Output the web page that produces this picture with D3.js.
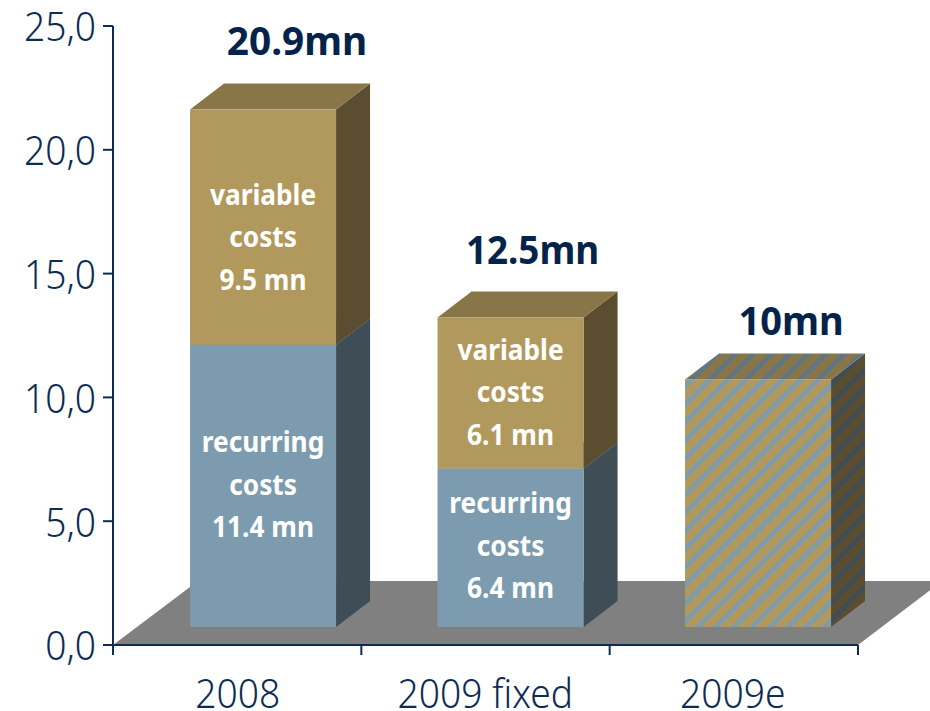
<!DOCTYPE html>
<html>
<head>
<meta charset="utf-8">
<script src="https://cdn.jsdelivr.net/npm/d3@7"></script>
<style>
  html, body { margin: 0; padding: 0; background: #fff; overflow: hidden; }
  text { font-family: "Noto Sans", sans-serif; }
</style>
</head>
<body>
<svg id="chart" width="930" height="711"></svg>
<script>
const categories = ['2008', '2009 fixed', '2009e'];
const recurring = [11.4, 6.4, 0];
const variable = [9.5, 6.1, 0];
const estimated = [0, 0, 10];
const totals = ['20.9mn', '12.5mn', '10mn'];
const recurringLabels = ['recurring|costs|11.4 mn', 'recurring|costs|6.4 mn', ''];
const variableLabels = ['variable|costs|9.5 mn', 'variable|costs|6.1 mn', ''];
const yTicks = [0, 5, 10, 15, 20, 25];

const navy = '#0c2c54';
const svg = d3.select('#chart');
const y = d3.scaleLinear().domain([0, 25]).range([645, 26]);
const x = d3.scaleBand().domain(categories).range([114, 856.5]);
const xEdges = d3.scaleLinear().domain([0, 3]).range([113, 858]);
const comma = d3.formatLocale({ decimal: ',', thousands: '.', grouping: [3], currency: ['', ''] }).format('.1f');

const barWidth = 146;
const lift = 18; // bars stand on the floor, above the axis line
const dx = 34;
const dy = 26;

const barLeft = (c) => x(c) + x.bandwidth() / 2 + 25.3 - barWidth / 2;

// the original face is narrower than Noto Sans, so squeeze to the measured width
function squeeze(selection, factor) {
  selection.each(function (d, i) {
    const w = this.getComputedTextLength();
    d3.select(this)
      .attr('textLength', w * (typeof factor === 'function' ? factor(d, i) : factor))
      .attr('lengthAdjust', 'spacingAndGlyphs');
  });
}

// stripe patterns for the estimated bar
const defs = svg.append('defs');
function stripes(id, a, b) {
  const p = defs.append('pattern')
    .attr('id', id)
    .attr('patternUnits', 'userSpaceOnUse')
    .attr('width', 12.8)
    .attr('height', 12.8)
    .attr('patternTransform', 'rotate(45)');
  p.append('rect').attr('width', 12.8).attr('height', 12.8).attr('fill', a);
  p.append('rect').attr('width', 4.6).attr('height', 12.8).attr('fill', b);
}
stripes('stripeFront', '#b1995d', '#7d9bae');
stripes('stripeTop', '#887548', '#5f7583');
stripes('stripeSide', '#5a4d30', '#3f4d57');

// floor
svg.append('polygon')
  .attr('points', [[113, 645], [198, 581], [942, 581], [858, 645]].join(' '))
  .attr('fill', '#808080');

// boxes are built from the stacked series
function box(g, c, from, to, fills) {
  const l = barLeft(c);
  const r = l + barWidth;
  const top = y(to) - lift;
  const bottom = y(from) - lift;
  g.append('polygon')
    .attr('points', [[r, bottom], [r + dx, bottom - dy], [r + dx, top - dy], [r, top]].join(' '))
    .attr('fill', fills.side);
  g.append('polygon')
    .attr('points', [[l, top], [l + dx, top - dy], [r + dx, top - dy], [r, top]].join(' '))
    .attr('fill', fills.top);
  g.append('rect')
    .attr('x', l)
    .attr('y', top)
    .attr('width', barWidth)
    .attr('height', bottom - top)
    .attr('fill', fills.front);
}

const blueFill = { front: '#7d9bae', top: '#5f7583', side: '#3f4d57' };
const goldFill = { front: '#b1995d', top: '#887548', side: '#5a4d30' };
const stripeFill = { front: 'url(#stripeFront)', top: 'url(#stripeTop)', side: 'url(#stripeSide)' };

const bars = svg.append('g').attr('class', 'bars');
categories.forEach((c, i) => {
  if (recurring[i]) box(bars, c, 0, recurring[i], blueFill);
  if (variable[i]) box(bars, c, recurring[i], recurring[i] + variable[i], goldFill);
  if (estimated[i]) box(bars, c, 0, estimated[i], stripeFill);
});

// white labels inside the bars
function label(c, text, centreValue, shift) {
  const cx = barLeft(c) + barWidth / 2;
  const cy = y(centreValue) - lift;
  const parts = text.split('|');
  parts.forEach((t, j) => {
    svg.append('text')
      .attr('class', 'inner')
      .attr('x', cx)
      .attr('y', cy + (j - (parts.length - 1) / 2) * 42.5 + shift)
      .attr('text-anchor', 'middle')
      .attr('fill', '#fff')
      .style('font-size', '29px')
      .style('font-weight', 700)
      .text(t);
  });
}
categories.forEach((c, i) => {
  if (recurringLabels[i]) label(c, recurringLabels[i], recurring[i] / 2, i === 0 ? 9 : 8);
  if (variableLabels[i]) label(c, variableLabels[i], recurring[i] + variable[i] / 2, i === 0 ? 20 : 9);
});
squeeze(svg.selectAll('.inner'), 0.905);

// totals above the bars, placed by hand like the original callouts
const totalShiftX = [34, 22, 33];
const totalShiftY = [-55, -54, -44];
const totalSqueeze = [0.97, 0.92, 0.95];
svg.selectAll('.total')
  .data(categories)
  .join('text')
  .attr('class', 'total')
  .attr('x', (c, i) => barLeft(c) + barWidth / 2 + totalShiftX[i])
  .attr('y', (c, i) => y(recurring[i] + variable[i] + estimated[i]) - lift + totalShiftY[i])
  .attr('text-anchor', 'middle')
  .attr('fill', '#03234b')
  .style('font-size', '40px')
  .style('font-weight', 700)
  .text((c, i) => totals[i])
  .call(squeeze, (c, i) => totalSqueeze[i]);

// axes
const yAxis = svg.append('g')
  .attr('transform', 'translate(113,0)')
  .call(d3.axisLeft(y).offset(0).tickValues(yTicks).tickFormat(comma).tickSize(10).tickSizeOuter(0).tickPadding(7));
yAxis.selectAll('text')
  .attr('fill', navy)
  .attr('dy', '0.39em')
  .style('font-size', '39.5px')
  .style('font-weight', 300)
  .call(squeeze, 0.94);
svg.append('g')
  .attr('transform', 'translate(0,645)')
  .call(d3.axisBottom(xEdges).offset(0).tickValues([0, 1, 2, 3]).tickFormat('').tickSize(10).tickSizeOuter(0));
svg.selectAll('.domain, .tick line').attr('stroke', navy).attr('stroke-width', 2);

svg.selectAll('.category')
  .data(categories)
  .join('text')
  .attr('class', 'category')
  .attr('x', (c) => x(c) + x.bandwidth() / 2)
  .attr('y', 708)
  .attr('text-anchor', 'middle')
  .attr('fill', navy)
  .style('font-size', '39.5px')
  .style('font-weight', 300)
  .text((c) => c)
  .call(squeeze, 0.94);
</script>
</body>
</html>
